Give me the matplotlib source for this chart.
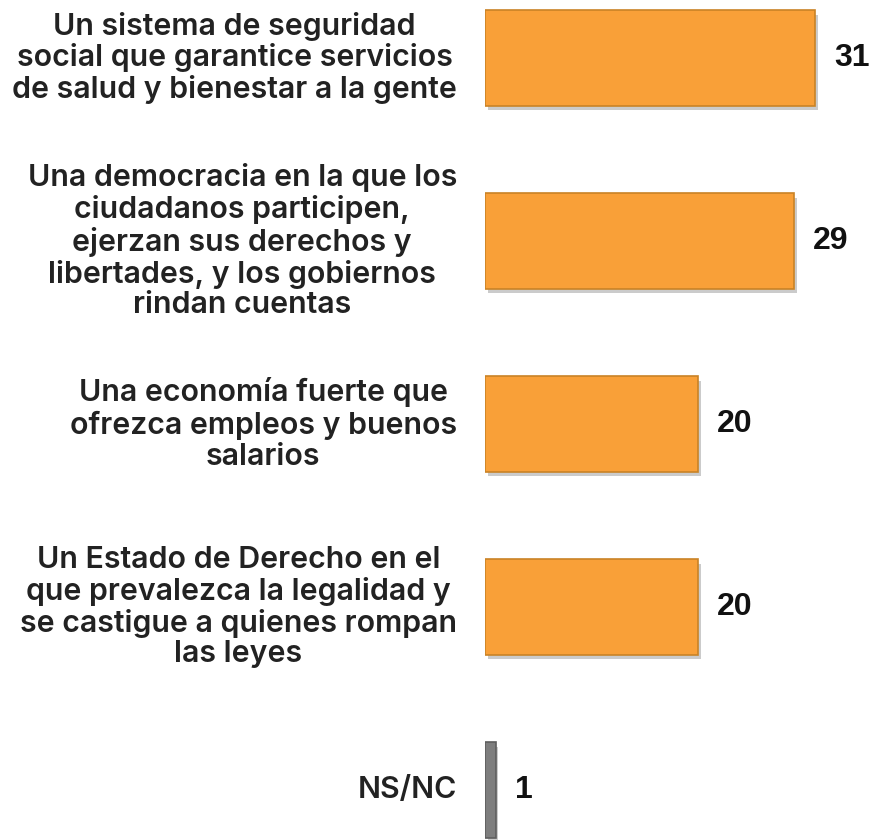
import matplotlib.pyplot as plt
import matplotlib.patheffects as pe

categories = [
    "Un sistema de seguridad\nsocial que garantice servicios\nde salud y bienestar a la gente",
    "Una democracia en la que los\nciudadanos participen,\nejerzan sus derechos y\nlibertades, y los gobiernos\nrindan cuentas",
    "Una economía fuerte que\nofrezca empleos y buenos\nsalarios",
    "Un Estado de Derecho en el\nque prevalezca la legalidad y\nse castigue a quienes rompan\nlas leyes",
    "NS/NC",
]
values = [31, 29, 20, 20, 1]
bar_colors = ["#F9A038", "#F9A038", "#F9A038", "#F9A038", "#7E7E7E"]
edge_colors = ["#C98326", "#C98326", "#C98326", "#C98326", "#5E5E5E"]

plt.rcParams["font.family"] = ["Liberation Sans", "DejaVu Sans"]

W, H = 873, 840
fig = plt.figure(figsize=(W / 100, H / 100), dpi=100)

# axes starts where bars start (x=485px) and covers full height
px_per_unit = 10.65
left_px = 485
ax = fig.add_axes([left_px / W, 0, (W - left_px) / W, 1])
ax.set_xlim(0, (W - left_px) / px_per_unit)
spacing = 183
top_center = 58
ax.set_ylim((H - top_center) / spacing, -top_center / spacing)
ax.axis("off")

positions = list(range(len(values)))
bars = ax.barh(
    positions,
    values,
    height=0.52,
    color=bar_colors,
    edgecolor=edge_colors,
    linewidth=1.2,
)
for bar in bars:
    bar.set_path_effects([
        pe.SimplePatchShadow(offset=(2, -3), shadow_rgbFace="#999999", alpha=0.5),
        pe.Normal(),
    ])

label_x = -28 / px_per_unit
for pos, label, value in zip(positions, categories, values):
    ax.text(
        label_x, pos, label,
        ha="right", va="center", multialignment="center",
        family=["Inter", "DejaVu Sans"], fontsize=21.8, fontweight="semibold",
        color="#222222", linespacing=1.13, clip_on=False,
    )
    ax.text(
        value + 1.8, pos, str(value),
        ha="left", va="center",
        fontsize=23, fontweight="bold", color="#111111",
    )

fig.savefig("out.png", dpi=100)
